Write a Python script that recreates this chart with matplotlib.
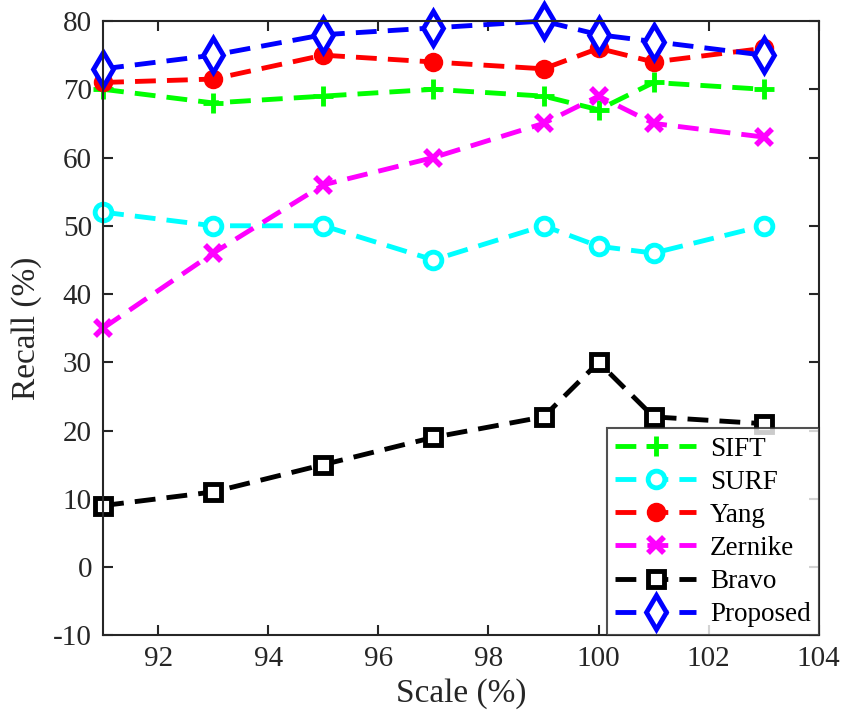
import matplotlib.pyplot as plt

# Данные (Recall, %) по масштабу
scale = [91, 93, 95, 97, 99, 100, 101, 103]

sift     = [70, 68, 69, 70, 69, 67, 71, 70]
surf     = [52, 50, 50, 45, 50, 47, 46, 50]
yang     = [71, 71.5, 75, 74, 73, 76, 74, 76]
zernike  = [35, 46, 56, 60, 65, 69, 65, 63]
bravo    = [9, 11, 15, 19, 22, 30, 22, 21]
proposed = [73, 75, 78, 79, 80, 78, 77, 75]

plt.rcParams['font.family'] = ['Liberation Serif', 'DejaVu Serif']
plt.rcParams['lines.scale_dashes'] = False
plt.rcParams['axes.unicode_minus'] = False
txt = '#262626'

fig = plt.figure(figsize=(8.45, 7.26), dpi=100)
ax = fig.add_axes([0.122, 0.125, 0.847, 0.846])

dash = (15, 8)
lw = 3.5
kw = dict(lw=lw, dashes=dash, clip_on=False)
ax.plot(scale, sift, '--', color='#00FF00', marker='+',
        ms=14, mew=3.5, label='SIFT', **kw)
ax.plot(scale, surf, '--', color='#00FFFF', marker='o',
        ms=12, mew=3.5, mfc='white', label='SURF', **kw)
ax.plot(scale, yang, '--', color='#FF0000', marker='o',
        ms=12, mew=2, label='Yang', **kw)
ax.plot(scale, zernike, '--', color='#FF00FF', marker='x',
        ms=11, mew=4, label='Zernike', **kw)
ax.plot(scale, bravo, '--', color='black', marker='s',
        ms=12, mew=3.5, mfc='white', label='Bravo', **kw)
ax.plot(scale, proposed, '--', color='#0000FF', marker='d',
        ms=17, mew=3.5, mfc='white', label='Proposed', **kw)

ax.set_xlim(91, 104)
ax.set_ylim(-10, 80)
ax.set_xticks(range(92, 105, 2))
ax.set_yticks(range(-10, 81, 10))
ax.tick_params(direction='in', length=7, width=1.5, labelsize=21,
               top=True, right=True, colors=txt, pad=8)
for s in ax.spines.values():
    s.set_linewidth(1.5)
    s.set_color(txt)

ax.set_xlabel('Scale (%)', fontsize=24, color=txt, labelpad=4)
ax.set_ylabel('Recall (%)', fontsize=24, color=txt, labelpad=8)

leg = ax.legend(loc='lower right', borderaxespad=0, fontsize=19.5,
                handlelength=3.0, handletextpad=0.5, labelspacing=0.3,
                fancybox=False, edgecolor=txt, borderpad=0.3)
leg.get_frame().set_linewidth(1.5)

plt.savefig('out.png', dpi=100)
